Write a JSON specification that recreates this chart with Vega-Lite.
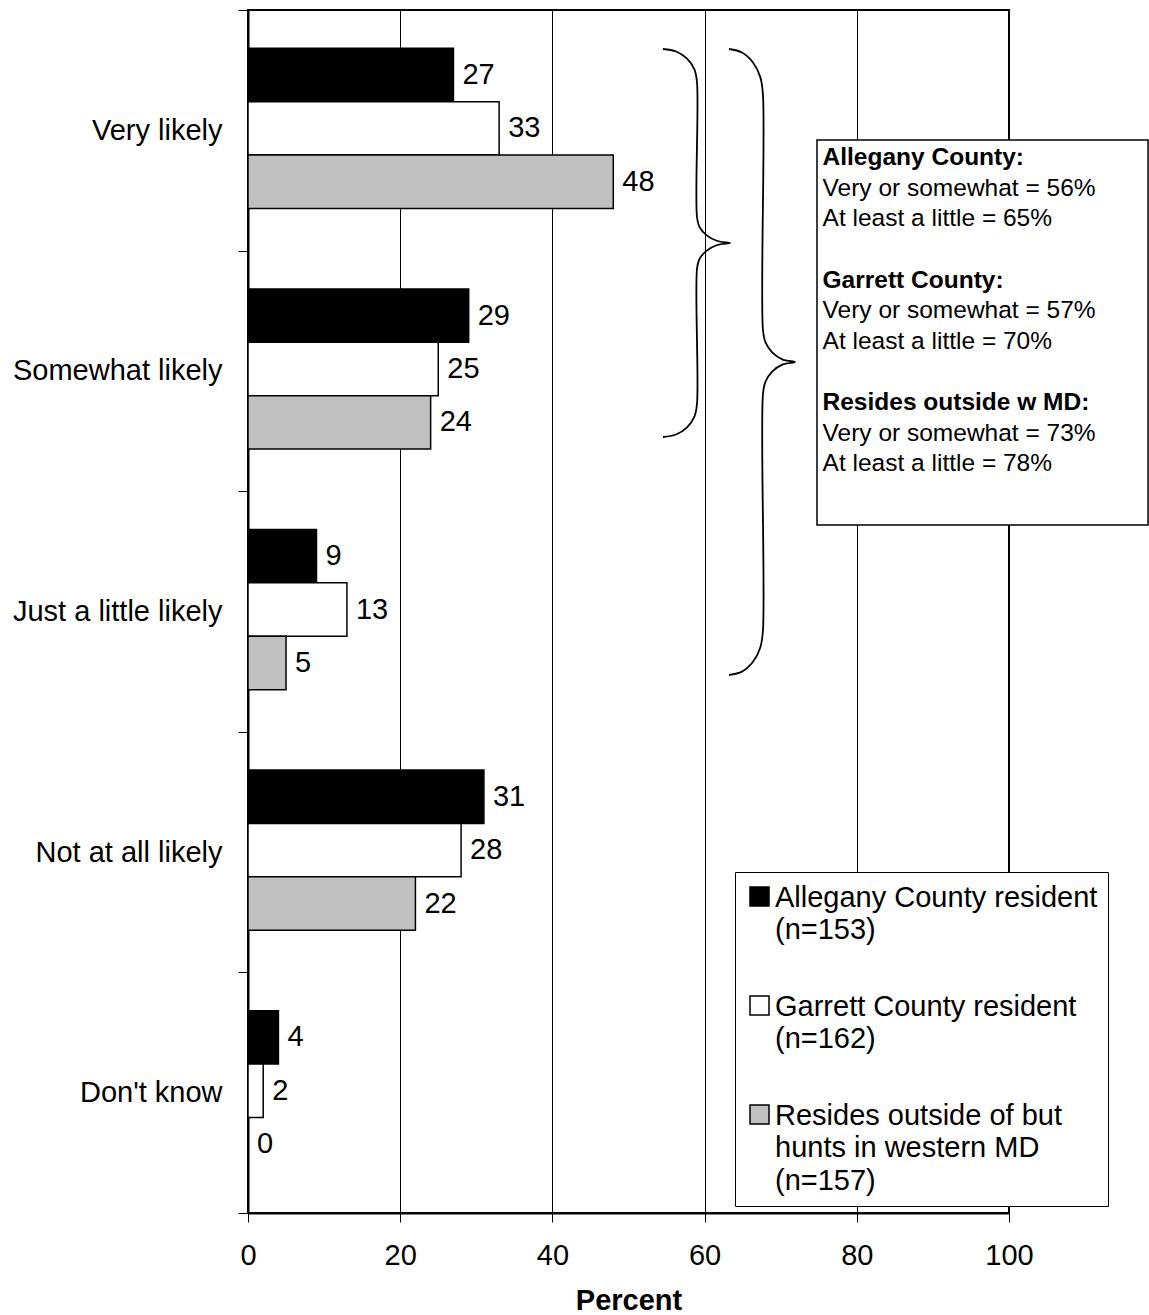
{
  "$schema": "https://vega.github.io/schema/vega-lite/v6.json",
  "width": 761,
  "height": 1203,
  "autosize": {"type": "none"},
  "padding": {"left": 248, "top": 10, "right": 140, "bottom": 102},
  "background": "white",
  "config": {
    "font": "Liberation Sans",
    "view": {"stroke": "black", "strokeWidth": 2},
    "axis": {"labelFont": "Liberation Sans", "labelColor": "black", "titleFont": "Liberation Sans", "titleColor": "black"}
  },
  "datasets": {
    "bars": [
      {"likelihood": "Very likely", "group": "Allegany County resident\n(n=153)", "percent": 27},
      {"likelihood": "Very likely", "group": "Garrett County resident\n(n=162)", "percent": 33},
      {"likelihood": "Very likely", "group": "Resides outside of but\nhunts in western MD\n(n=157)", "percent": 48},
      {"likelihood": "Somewhat likely", "group": "Allegany County resident\n(n=153)", "percent": 29},
      {"likelihood": "Somewhat likely", "group": "Garrett County resident\n(n=162)", "percent": 25},
      {"likelihood": "Somewhat likely", "group": "Resides outside of but\nhunts in western MD\n(n=157)", "percent": 24},
      {"likelihood": "Just a little likely", "group": "Allegany County resident\n(n=153)", "percent": 9},
      {"likelihood": "Just a little likely", "group": "Garrett County resident\n(n=162)", "percent": 13},
      {"likelihood": "Just a little likely", "group": "Resides outside of but\nhunts in western MD\n(n=157)", "percent": 5},
      {"likelihood": "Not at all likely", "group": "Allegany County resident\n(n=153)", "percent": 31},
      {"likelihood": "Not at all likely", "group": "Garrett County resident\n(n=162)", "percent": 28},
      {"likelihood": "Not at all likely", "group": "Resides outside of but\nhunts in western MD\n(n=157)", "percent": 22},
      {"likelihood": "Don't know", "group": "Allegany County resident\n(n=153)", "percent": 4},
      {"likelihood": "Don't know", "group": "Garrett County resident\n(n=162)", "percent": 2},
      {"likelihood": "Don't know", "group": "Resides outside of but\nhunts in western MD\n(n=157)", "percent": 0}
    ],
    "braces": [
      {"brace": "A", "i": 0, "x": 54.53, "y": 0.1621},
      {"brace": "A", "i": 1, "x": 56.24, "y": 0.1725},
      {"brace": "A", "i": 2, "x": 57.69, "y": 0.2024},
      {"brace": "A", "i": 3, "x": 58.66, "y": 0.2469},
      {"brace": "A", "i": 4, "x": 59.0, "y": 0.2993},
      {"brace": "A", "i": 5, "x": 59.0, "y": 0.8604},
      {"brace": "A", "i": 6, "x": 59.33, "y": 0.9019},
      {"brace": "A", "i": 7, "x": 60.28, "y": 0.9368},
      {"brace": "A", "i": 8, "x": 61.68, "y": 0.9601},
      {"brace": "A", "i": 9, "x": 63.34, "y": 0.9684},
      {"brace": "A", "i": 10, "x": 61.68, "y": 0.9767},
      {"brace": "A", "i": 11, "x": 60.28, "y": 1.0},
      {"brace": "A", "i": 12, "x": 59.33, "y": 1.0349},
      {"brace": "A", "i": 13, "x": 59.0, "y": 1.0765},
      {"brace": "A", "i": 14, "x": 59.0, "y": 1.6376},
      {"brace": "A", "i": 15, "x": 58.66, "y": 1.6899},
      {"brace": "A", "i": 16, "x": 57.69, "y": 1.7344},
      {"brace": "A", "i": 17, "x": 56.24, "y": 1.7643},
      {"brace": "A", "i": 18, "x": 54.53, "y": 1.7747},
      {"brace": "B", "i": 0, "x": 63.21, "y": 0.1621},
      {"brace": "B", "i": 1, "x": 64.91, "y": 0.1766},
      {"brace": "B", "i": 2, "x": 66.36, "y": 0.2182},
      {"brace": "B", "i": 3, "x": 67.33, "y": 0.2801},
      {"brace": "B", "i": 4, "x": 67.67, "y": 0.3533},
      {"brace": "B", "i": 5, "x": 67.67, "y": 1.33},
      {"brace": "B", "i": 6, "x": 67.99, "y": 1.3807},
      {"brace": "B", "i": 7, "x": 68.91, "y": 1.4239},
      {"brace": "B", "i": 8, "x": 70.28, "y": 1.453},
      {"brace": "B", "i": 9, "x": 71.88, "y": 1.463},
      {"brace": "B", "i": 10, "x": 70.28, "y": 1.473},
      {"brace": "B", "i": 11, "x": 68.91, "y": 1.5021},
      {"brace": "B", "i": 12, "x": 67.99, "y": 1.5453},
      {"brace": "B", "i": 13, "x": 67.67, "y": 1.596},
      {"brace": "B", "i": 14, "x": 67.67, "y": 2.5769},
      {"brace": "B", "i": 15, "x": 67.33, "y": 2.6484},
      {"brace": "B", "i": 16, "x": 66.36, "y": 2.709},
      {"brace": "B", "i": 17, "x": 64.91, "y": 2.7498},
      {"brace": "B", "i": 18, "x": 63.21, "y": 2.7639}
    ],
    "notes": [
      {"who": "Allegany County:", "detail": "Very or somewhat = 56%\nAt least a little = 65%"},
      {"who": "Garrett County:", "detail": "Very or somewhat = 57%\nAt least a little = 70%"},
      {"who": "Resides outside w MD:", "detail": "Very or somewhat = 73%\nAt least a little = 78%"}
    ]
  },
  "layer": [
    {
      "data": {"name": "bars"},
      "encoding": {
        "y": {
          "field": "likelihood",
          "type": "nominal",
          "sort": ["Very likely", "Somewhat likely", "Just a little likely", "Not at all likely", "Don't know"],
          "scale": {"domain": ["Very likely", "Somewhat likely", "Just a little likely", "Not at all likely", "Don't know"], "paddingInner": 0, "paddingOuter": 0},
          "axis": {
            "title": null, "grid": false, "domainColor": "black", "domainWidth": 2,
            "tickColor": "black", "tickWidth": 1, "tickSize": 10, "tickBand": "extent",
            "labelPadding": 16, "labelFontSize": 29, "labelLimit": 400
          }
        },
        "yOffset": {
          "field": "group",
          "type": "nominal",
          "sort": ["Allegany County resident\n(n=153)", "Garrett County resident\n(n=162)", "Resides outside of but\nhunts in western MD\n(n=157)"],
          "scale": {"domain": ["Allegany County resident\n(n=153)", "Garrett County resident\n(n=162)", "Resides outside of but\nhunts in western MD\n(n=157)"], "paddingInner": 0, "paddingOuter": 0.753, "align": 0.476}
        },
        "x": {
          "field": "percent",
          "type": "quantitative",
          "scale": {"domain": [0, 100], "nice": false},
          "axis": {
            "values": [0, 20, 40, 60, 80, 100], "title": "Percent", "titleFontSize": 29, "titleFontWeight": "bold",
            "titlePadding": 16, "grid": true, "gridColor": "black", "gridWidth": 1, "gridOpacity": 1,
            "domainColor": "black", "domainWidth": 2, "tickColor": "black", "tickWidth": 1, "tickSize": 9,
            "labelPadding": 19, "labelFontSize": 29, "labelFlush": false, "labelOverlap": false
          }
        }
      },
      "layer": [
        {
          "mark": {"type": "bar", "stroke": "black", "strokeWidth": 1.5},
          "encoding": {
            "fill": {
              "field": "group",
              "type": "nominal",
              "scale": {"domain": ["Allegany County resident\n(n=153)", "Garrett County resident\n(n=162)", "Resides outside of but\nhunts in western MD\n(n=157)"], "range": ["black", "white", "#c0c0c0"]},
              "legend": {
                "title": null, "orient": "none", "legendX": 487, "legendY": 862, "direction": "vertical",
                "fillColor": "white", "strokeColor": "black", "padding": 10,
                "symbolType": "square", "symbolSize": 361, "symbolStrokeColor": "black", "symbolStrokeWidth": 1.5,
                "labelFont": "Liberation Sans", "labelFontSize": 29, "labelColor": "black", "labelLimit": 500,
                "labelOffset": 1, "labelBaseline": "alphabetic", "labelExpr": "split(datum.label, '\\n')",
                "rowPadding": 46,
                "encode": {"labels": {"update": {"dy": {"value": 10}, "lineHeight": {"value": 32.5}}}}
              }
            }
          }
        },
        {
          "mark": {"type": "text", "align": "left", "baseline": "middle", "dx": 9, "fontSize": 29, "color": "black"},
          "encoding": {"text": {"field": "percent", "type": "quantitative"}}
        }
      ]
    },
    {
      "layer": [
        {
          "data": {"name": "braces"},
          "mark": {"type": "line", "interpolate": "catmull-rom", "color": "black", "strokeWidth": 1.8},
          "encoding": {
            "x": {"field": "x", "type": "quantitative", "scale": {"domain": [0, 100], "nice": false}, "axis": null},
            "y": {"field": "y", "type": "quantitative", "scale": {"domain": [0, 5], "reverse": true, "nice": false, "zero": false}, "axis": null},
            "detail": {"field": "brace", "type": "nominal"},
            "order": {"field": "i", "type": "quantitative"}
          }
        },
        {
          "data": {"values": [{}]},
          "mark": {"type": "rect", "fill": "white", "stroke": "black", "strokeWidth": 1.5},
          "encoding": {
            "x": {"datum": 74.77, "type": "quantitative", "scale": {"domain": [0, 100], "nice": false}, "axis": null},
            "x2": {"datum": 118.27},
            "y": {"datum": 0.5403, "type": "quantitative", "scale": {"domain": [0, 5], "reverse": true, "nice": false, "zero": false}, "axis": null},
            "y2": {"datum": 2.1405}
          }
        },
        {
          "data": {"name": "notes"},
          "mark": {"type": "text", "align": "left", "baseline": "alphabetic", "fontSize": 24.5, "fontWeight": "bold", "color": "black"},
          "encoding": {
            "x": {"datum": 75.5, "type": "quantitative", "scale": {"domain": [0, 100], "nice": false}, "axis": null},
            "y": {"field": "who", "type": "nominal", "sort": null, "scale": {"type": "point", "domain": ["Allegany County:", "Garrett County:", "Resides outside w MD:"], "range": [155, 400], "padding": 0}, "axis": null},
            "text": {"field": "who"}
          }
        },
        {
          "data": {"name": "notes"},
          "mark": {"type": "text", "align": "left", "baseline": "alphabetic", "fontSize": 24.5, "color": "black", "lineBreak": "\n", "lineHeight": 30.7, "dy": 30.7},
          "encoding": {
            "x": {"datum": 75.5, "type": "quantitative", "scale": {"domain": [0, 100], "nice": false}, "axis": null},
            "y": {"field": "who", "type": "nominal", "sort": null, "scale": {"type": "point", "domain": ["Allegany County:", "Garrett County:", "Resides outside w MD:"], "range": [155, 400], "padding": 0}, "axis": null},
            "text": {"field": "detail"}
          }
        }
      ],
      "resolve": {"scale": {"y": "independent"}}
    }
  ],
  "resolve": {"scale": {"y": "independent", "x": "independent"}}
}
